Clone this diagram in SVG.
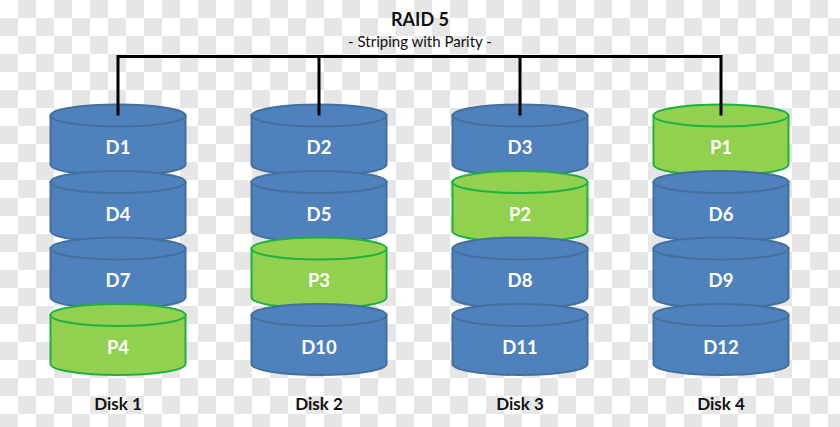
<svg xmlns="http://www.w3.org/2000/svg" xmlns:xlink="http://www.w3.org/1999/xlink" width="840" height="427" viewBox="0 0 840 427">
<style>
text{font-family:Lato,"Liberation Sans",sans-serif;text-anchor:middle}
.title{font-size:18px;font-weight:bold;fill:#111}
.sub{font-size:15px;fill:#111}
.lbl{font-size:18.5px;font-weight:bold;fill:#ffffff}
.disk{font-size:17px;font-weight:bold;fill:#111}
.blue{fill:#4f81bd;stroke:#41719c;stroke-width:2}
.green{fill:#92d050;stroke:#1eb040;stroke-width:2}
.conn{fill:none;stroke:#000;stroke-width:3}
</style>
<defs>
<pattern id="checker" patternUnits="userSpaceOnUse" width="36" height="36">
<rect width="36" height="36" fill="#ffffff"/>
<rect x="18" y="0" width="18" height="18" fill="#e6e6e6"/>
<rect x="0" y="18" width="18" height="18" fill="#e6e6e6"/>
</pattern>
<g id="cyl">
<path d="M-67.5,0 V49 A67.5,11 0 0 0 67.5,49 V0 Z"/>
<ellipse cx="0" cy="0" rx="67.5" ry="11"/>
</g>
</defs>
<rect width="840" height="427" fill="url(#checker)"/>
<g id="title">
<text class="title" x="420" y="26">RAID 5</text>
<text class="sub" x="420" y="47">- Striping with Parity -</text>
</g>
<g id="disk1">
<use xlink:href="#cyl" href="#cyl" class="blue" x="118" y="115.5"/>
<text class="lbl" x="118" y="154">D1</text>
<use xlink:href="#cyl" href="#cyl" class="blue" x="118" y="182"/>
<text class="lbl" x="118" y="220.5">D4</text>
<use xlink:href="#cyl" href="#cyl" class="blue" x="118" y="248.5"/>
<text class="lbl" x="118" y="287">D7</text>
<use xlink:href="#cyl" href="#cyl" class="green" x="118" y="315"/>
<text class="lbl" x="118" y="353.5">P4</text>
<text class="disk" x="118" y="410">Disk 1</text>
</g>
<g id="disk2">
<use xlink:href="#cyl" href="#cyl" class="blue" x="319" y="115.5"/>
<text class="lbl" x="319" y="154">D2</text>
<use xlink:href="#cyl" href="#cyl" class="blue" x="319" y="182"/>
<text class="lbl" x="319" y="220.5">D5</text>
<use xlink:href="#cyl" href="#cyl" class="green" x="319" y="248.5"/>
<text class="lbl" x="319" y="287">P3</text>
<use xlink:href="#cyl" href="#cyl" class="blue" x="319" y="315"/>
<text class="lbl" x="319" y="353.5">D10</text>
<text class="disk" x="319" y="410">Disk 2</text>
</g>
<g id="disk3">
<use xlink:href="#cyl" href="#cyl" class="blue" x="520" y="115.5"/>
<text class="lbl" x="520" y="154">D3</text>
<use xlink:href="#cyl" href="#cyl" class="green" x="520" y="182"/>
<text class="lbl" x="520" y="220.5">P2</text>
<use xlink:href="#cyl" href="#cyl" class="blue" x="520" y="248.5"/>
<text class="lbl" x="520" y="287">D8</text>
<use xlink:href="#cyl" href="#cyl" class="blue" x="520" y="315"/>
<text class="lbl" x="520" y="353.5">D11</text>
<text class="disk" x="520" y="410">Disk 3</text>
</g>
<g id="disk4">
<use xlink:href="#cyl" href="#cyl" class="green" x="721" y="115.5"/>
<text class="lbl" x="721" y="154">P1</text>
<use xlink:href="#cyl" href="#cyl" class="blue" x="721" y="182"/>
<text class="lbl" x="721" y="220.5">D6</text>
<use xlink:href="#cyl" href="#cyl" class="blue" x="721" y="248.5"/>
<text class="lbl" x="721" y="287">D9</text>
<use xlink:href="#cyl" href="#cyl" class="blue" x="721" y="315"/>
<text class="lbl" x="721" y="353.5">D12</text>
<text class="disk" x="721" y="410">Disk 4</text>
</g>
<g id="connectors">
<path class="conn" d="M118,115.5 V56.5 H721 V115.5"/>
<path class="conn" d="M319,56.5 V115.5"/>
<path class="conn" d="M520,56.5 V115.5"/>
</g>
</svg>
